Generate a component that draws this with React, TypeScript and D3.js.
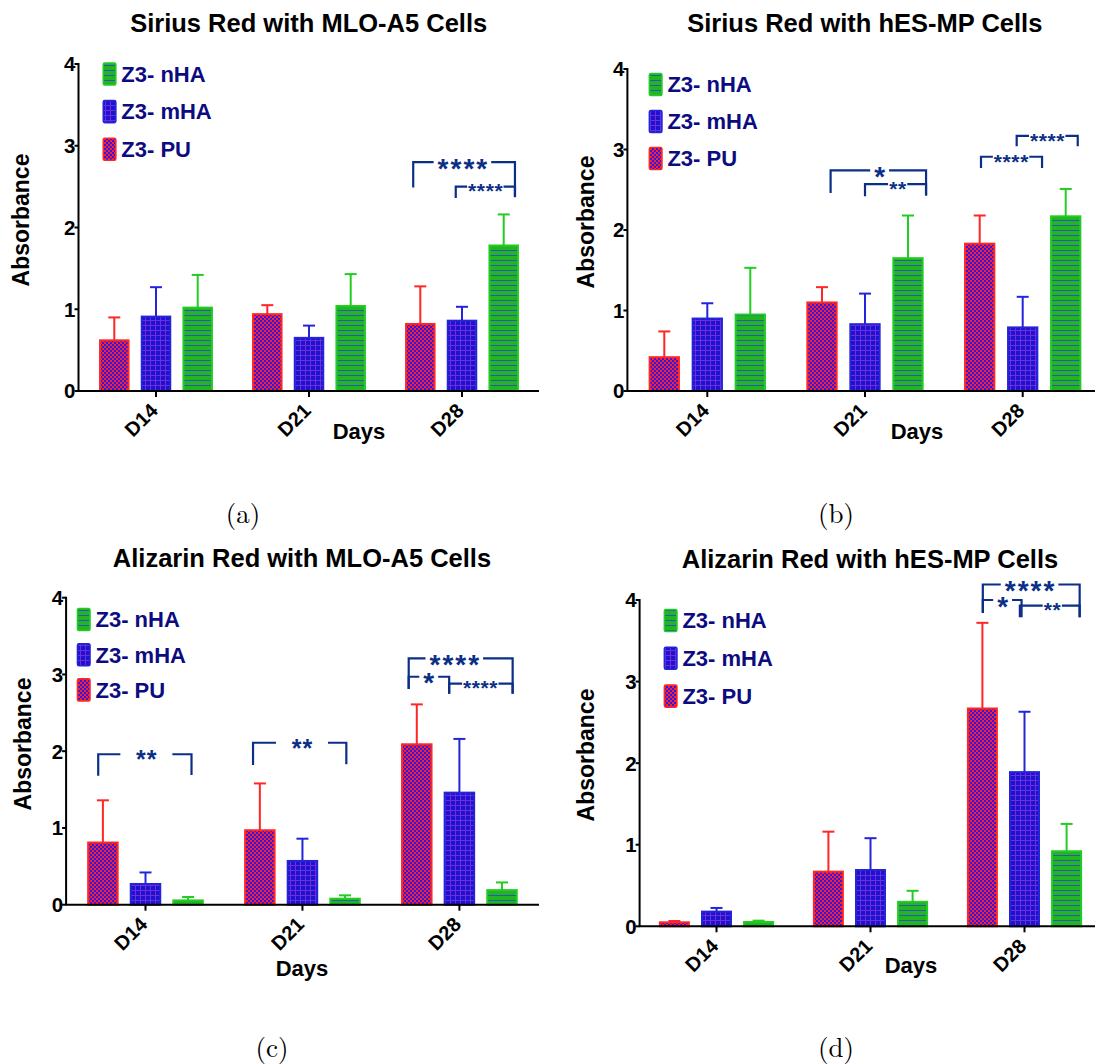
import React from "react";
import * as d3 from "d3";

// ---------- shared categories / labels ----------
const categories = ["D14", "D21", "D28"];
const seriesKeys = ["PU", "mHA", "nHA"];
const legendKeys = ["nHA", "mHA", "PU"];
const legendLabels = ["Z3- nHA", "Z3- mHA", "Z3- PU"];
const yTicks = [0, 1, 2, 3, 4];
const yAxisTitle = "Absorbance";
const xAxisTitle = "Days";

// ---------- panel (a) Sirius Red with MLO-A5 ----------
const aTitle = "Sirius Red with MLO-A5 Cells";
const aPUMean = [0.62, 0.94, 0.82];
const aPUSd = [0.28, 0.11, 0.46];
const aMHAMean = [0.91, 0.65, 0.86];
const aMHASd = [0.36, 0.15, 0.17];
const aNHAMean = [1.02, 1.04, 1.78];
const aNHASd = [0.4, 0.39, 0.38];
// brackets: category, from/to (series position), top value, leg ends, label, label position
const aBrackets = [
  { cat: 2, from: -0.17, to: 2.27, top: 2.8, endL: 2.49, endR: 2.38, label: "****", at: 1.01, kind: "big" },
  { cat: 2, from: 0.85, to: 2.27, top: 2.5, endL: 2.36, endR: 2.37, label: "****", at: 1.56, kind: "small" },
];

// ---------- panel (b) Sirius Red with hES-MP ----------
const bTitle = "Sirius Red with hES-MP Cells";
const bPUMean = [0.42, 1.1, 1.83];
const bPUSd = [0.32, 0.19, 0.35];
const bMHAMean = [0.9, 0.83, 0.79];
const bMHASd = [0.19, 0.38, 0.38];
const bNHAMean = [0.95, 1.65, 2.17];
const bNHASd = [0.58, 0.53, 0.34];
const bBrackets = [
  { cat: 1, from: 0.2, to: 2.42, top: 2.74, endL: 2.46, endR: 2.43, label: "*", at: 1.34, kind: "big" },
  { cat: 1, from: 1.0, to: 2.42, top: 2.57, endL: 2.42, endR: 2.43, label: "**", at: 1.76, kind: "small" },
  { cat: 2, from: 0.03, to: 1.45, top: 2.91, endL: 2.77, endR: 2.77, label: "****", at: 0.73, kind: "small" },
  { cat: 2, from: 0.86, to: 2.28, top: 3.17, endL: 3.04, endR: 3.04, label: "****", at: 1.57, kind: "small" },
];

// ---------- panel (c) Alizarin Red with MLO-A5 ----------
const cTitle = "Alizarin Red with MLO-A5 Cells";
const cPUMean = [0.81, 0.97, 2.09];
const cPUSd = [0.55, 0.61, 0.52];
const cMHAMean = [0.27, 0.57, 1.46];
const cMHASd = [0.15, 0.29, 0.7];
const cNHAMean = [0.056, 0.078, 0.19];
const cNHASd = [0.044, 0.044, 0.1];
const cBrackets = [
  { cat: 0, from: -0.11, to: 2.08, top: 1.96, endL: 1.68, endR: 1.69, label: "**", at: 1.02, kind: "wide" },
  { cat: 1, from: -0.16, to: 2.03, top: 2.11, endL: 1.82, endR: 1.83, label: "**", at: 0.99, kind: "wide" },
  { cat: 2, from: -0.19, to: 2.25, top: 3.21, endL: 2.81, endR: 2.75, label: "****", at: 0.88, kind: "big" },
  { cat: 2, from: -0.19, to: 0.76, top: 2.97, endL: 2.81, endR: 2.75, label: "*", at: 0.28, kind: "big" },
  { cat: 2, from: 0.76, to: 2.25, top: 2.88, endL: 2.75, endR: 2.75, label: "****", at: 1.49, kind: "small" },
];

// ---------- panel (d) Alizarin Red with hES-MP ----------
const dTitle = "Alizarin Red with hES-MP Cells";
const dPUMean = [0.049, 0.67, 2.67];
const dPUSd = [0.016, 0.49, 1.05];
const dMHAMean = [0.18, 0.69, 1.89];
const dMHASd = [0.045, 0.39, 0.74];
const dNHAMean = [0.053, 0.3, 0.92];
const dNHASd = [0.016, 0.135, 0.335];
const dBrackets = [
  { cat: 2, from: 0.01, to: 2.31, top: 4.19, endL: 3.84, endR: 3.79, label: "****", at: 1.12, kind: "big" },
  { cat: 2, from: 0.01, to: 0.93, top: 4.0, endL: 3.84, endR: 3.79, label: "*", at: 0.48, kind: "big" },
  { cat: 2, from: 0.89, to: 2.31, top: 3.93, endL: 3.79, endR: 3.79, label: "**", at: 1.66, kind: "small" },
];

const captions = ["(a)", "(b)", "(c)", "(d)"];

// ---------- assemble ----------
const panels = [
  { title: aTitle, mean: [aPUMean, aMHAMean, aNHAMean], sd: [aPUSd, aMHASd, aNHASd], brackets: aBrackets },
  { title: bTitle, mean: [bPUMean, bMHAMean, bNHAMean], sd: [bPUSd, bMHASd, bNHASd], brackets: bBrackets },
  { title: cTitle, mean: [cPUMean, cMHAMean, cNHAMean], sd: [cPUSd, cMHASd, cNHASd], brackets: cBrackets },
  { title: dTitle, mean: [dPUMean, dMHAMean, dNHAMean], sd: [dPUSd, dMHASd, dNHASd], brackets: dBrackets },
];

// layout (pixels) per panel
const layouts = [
  { x0: 78.5, xEnd: 539, y0: 391, yTop: 64, c0: 156, c2: 462, inner: 41.7, barW: 28.5, titleX: 308.7, titleY: 32, legX: 103.3, legY: 74, legDy: 37.6, absX: 29.3, absY: 220, daysX: 359, daysY: 438.7, capX: 243, capY: 523 },
  { x0: 627.4, xEnd: 1095, y0: 391, yTop: 69, c0: 707.3, c2: 1022.7, inner: 43, barW: 29.3, titleX: 864.8, titleY: 32, legX: 649.4, legY: 84.5, legDy: 37, absX: 593.5, absY: 222, daysX: 917, daysY: 439.3, capX: 836, capY: 523 },
  { x0: 66.1, xEnd: 539, y0: 904.7, yTop: 597.7, c0: 145.5, c2: 459.4, inner: 42.6, barW: 29.5, titleX: 302, titleY: 566.7, legX: 77.5, legY: 619.5, legDy: 35.2, absX: 31, absY: 744, daysX: 302, daysY: 976, capX: 272, capY: 1057 },
  { x0: 639.6, xEnd: 1095, y0: 926.3, yTop: 600, c0: 716.5, c2: 1024.5, inner: 42.1, barW: 29, titleX: 870, titleY: 568, legX: 664.4, legY: 620.5, legDy: 37.8, absX: 593.6, absY: 755, daysX: 911, daysY: 973.3, capX: 836, capY: 1057 },
];

const FONT = "'Liberation Sans', Arial, Helvetica, sans-serif";
const SERIF = "'Latin Modern Roman', 'CMU Serif', 'Liberation Serif', 'Times New Roman', serif";
const strokeCol: Record<string, string> = { PU: "#ff2626", mHA: "#2424d8", nHA: "#22cc22" };
const fillId: Record<string, string> = { PU: "url(#patPU)", mHA: "url(#patMHA)", nHA: "url(#patNHA)" };
const NAVY_TEXT = "#0c0c80";
const BRACKET = "#0b2f86";

const starStyle: Record<string, { fs: number; ls: number; pitch: number; pad: number; gapHalf?: number }> = {
  big: { fs: 28, ls: 2, pitch: 12.9, pad: 3 },
  small: { fs: 21, ls: 0.6, pitch: 8.6, pad: 1 },
  wide: { fs: 25, ls: 1, pitch: 10.5, pad: 0, gapHalf: 26 },
};

function Panel({ p, L }: { p: any; L: any }) {
  const y = d3.scaleLinear().domain([0, 4]).range([L.y0, L.yTop]);
  const xCat = d3.scalePoint<string>().domain(categories).range([L.c0, L.c2]);
  const pad = 1 - L.barW / L.inner;
  const xSer = d3
    .scaleBand<string>()
    .domain(seriesKeys)
    .range([-1.5 * L.inner, 1.5 * L.inner])
    .paddingInner(pad)
    .paddingOuter(pad / 2);
  const xPos = d3.scaleLinear().domain([0, 2]).range([-L.inner, L.inner]);
  const bw = xSer.bandwidth();

  return (
    <g>
      <text x={L.titleX} y={L.titleY} textAnchor="middle" fontFamily={FONT} fontWeight="bold" fontSize={25.5} fill="#000">
        {p.title}
      </text>

      {/* bars */}
      {seriesKeys.map((s, si) =>
        categories.map((c, ci) => {
          const m = p.mean[si][ci];
          const e = p.sd[si][ci];
          const cx = (xCat(c) as number) + (xSer(s) as number) + bw / 2;
          const yt = y(m);
          const ye = y(m + e);
          return (
            <g key={s + c}>
              <line x1={cx} x2={cx} y1={yt} y2={ye} stroke={strokeCol[s]} strokeWidth={2} />
              <line x1={cx - 6} x2={cx + 6} y1={ye} y2={ye} stroke={strokeCol[s]} strokeWidth={2} />
              <rect
                x={cx - bw / 2}
                y={yt}
                width={bw}
                height={Math.max(0, L.y0 - yt)}
                fill={fillId[s]}
                stroke={strokeCol[s]}
                strokeWidth={2}
              />
            </g>
          );
        })
      )}

      {/* y axis */}
      <line x1={L.x0} x2={L.x0} y1={L.y0} y2={y(4) - 1} stroke="#000" strokeWidth={2} />
      {yTicks.map((t) => (
        <g key={t}>
          <line x1={L.x0 - 4} x2={L.x0} y1={y(t)} y2={y(t)} stroke="#000" strokeWidth={2} />
          <text x={L.x0 - 3} y={y(t)} dy="0.36em" textAnchor="end" fontFamily={FONT} fontWeight="bold" fontSize={20.5} fill="#000">
            {t}
          </text>
        </g>
      ))}
      {/* x axis */}
      <line x1={L.x0 - 1} x2={L.xEnd} y1={L.y0} y2={L.y0} stroke="#000" strokeWidth={2} />
      {categories.map((c) => {
        const cx = xCat(c) as number;
        return (
          <g key={c}>
            <line x1={cx} x2={cx} y1={L.y0} y2={L.y0 + 6} stroke="#000" strokeWidth={2} />
            <text
              transform={`translate(${cx + 3},${L.y0 + 21}) rotate(-45)`}
              textAnchor="end"
              fontFamily={FONT}
              fontWeight="bold"
              fontSize={20}
              fill="#000"
            >
              {c}
            </text>
          </g>
        );
      })}

      <text transform={`translate(${L.absX},${L.absY}) rotate(-90)`} textAnchor="middle" fontFamily={FONT} fontWeight="bold" fontSize={23} fill="#000">
        {yAxisTitle}
      </text>
      <text x={L.daysX} y={L.daysY} textAnchor="middle" fontFamily={FONT} fontWeight="bold" fontSize={22} fill="#000">
        {xAxisTitle}
      </text>

      {/* legend */}
      {legendKeys.map((k, i) => {
        const cy = L.legY + i * L.legDy;
        return (
          <g key={k}>
            <rect x={L.legX} y={cy - 11} width={12.5} height={22} fill={fillId[k]} stroke={strokeCol[k]} strokeWidth={1.6} rx={1.5} />
            <text x={L.legX + 18} y={cy + 7.8} fontFamily={FONT} fontWeight="bold" fontSize={22} fill={NAVY_TEXT}>
              {legendLabels[i]}
            </text>
          </g>
        );
      })}

      {/* significance brackets */}
      {p.brackets.map((b: any, i: number) => {
        const st = starStyle[b.kind];
        const cx = xCat(categories[b.cat]) as number;
        const xl = cx + xPos(b.from);
        const xr = cx + xPos(b.to);
        const xt = cx + xPos(b.at);
        const yT = y(b.top);
        const tw = b.label.length * st.pitch;
        const gh = st.gapHalf ?? tw / 2 + st.pad;
        return (
          <g key={i}>
            <path
              d={`M${xl},${y(b.endL)}V${yT}H${xt - gh}`}
              fill="none"
              stroke={BRACKET}
              strokeWidth={2.2}
              strokeLinejoin="miter"
            />
            <path
              d={`M${xt + gh},${yT}H${xr}V${y(b.endR)}`}
              fill="none"
              stroke={BRACKET}
              strokeWidth={2.2}
              strokeLinejoin="miter"
            />
            <text
              x={xt + st.ls / 2}
              y={yT + st.fs * 0.56}
              textAnchor="middle"
              fontFamily={FONT}
              fontWeight="bold"
              fontSize={st.fs}
              letterSpacing={st.ls}
              fill={BRACKET}
            >
              {b.label}
            </text>
          </g>
        );
      })}
    </g>
  );
}

export default function App() {
  return (
    <svg
      width={1097}
      height={1064}
      viewBox="0 0 1097 1064"
      style={{ position: "absolute", left: 0, top: 0, background: "#fff" }}
    >
      <defs>
        <pattern id="patPU" patternUnits="userSpaceOnUse" width={4} height={4}>
          <rect width={4} height={4} fill="#ff2020" />
          <rect x={0} y={0} width={2} height={2} fill="#2a18f4" />
          <rect x={2} y={2} width={2} height={2} fill="#2a18f4" />
        </pattern>
        <pattern id="patMHA" patternUnits="userSpaceOnUse" width={5} height={5}>
          <rect width={5} height={5} fill="#1e12cc" />
          <rect x={0} y={0} width={1} height={5} fill="#6e2ee0" />
          <rect x={0} y={0} width={5} height={1} fill="#6e2ee0" />
        </pattern>
        <pattern id="patNHA" patternUnits="userSpaceOnUse" width={5} height={5}>
          <rect width={5} height={5} fill="#22b422" />
          <rect x={0} y={0} width={5} height={1} fill="#2a58b8" />
        </pattern>
      </defs>
      <rect width={1097} height={1064} fill="#fff" />
      {panels.map((p, i) => (
        <Panel key={i} p={p} L={layouts[i]} />
      ))}
      {captions.map((c, i) => (
        <text key={c} x={layouts[i].capX} y={layouts[i].capY} textAnchor="middle" fontFamily={SERIF} fontSize={27} fill="#000">
          {c}
        </text>
      ))}
    </svg>
  );
}
